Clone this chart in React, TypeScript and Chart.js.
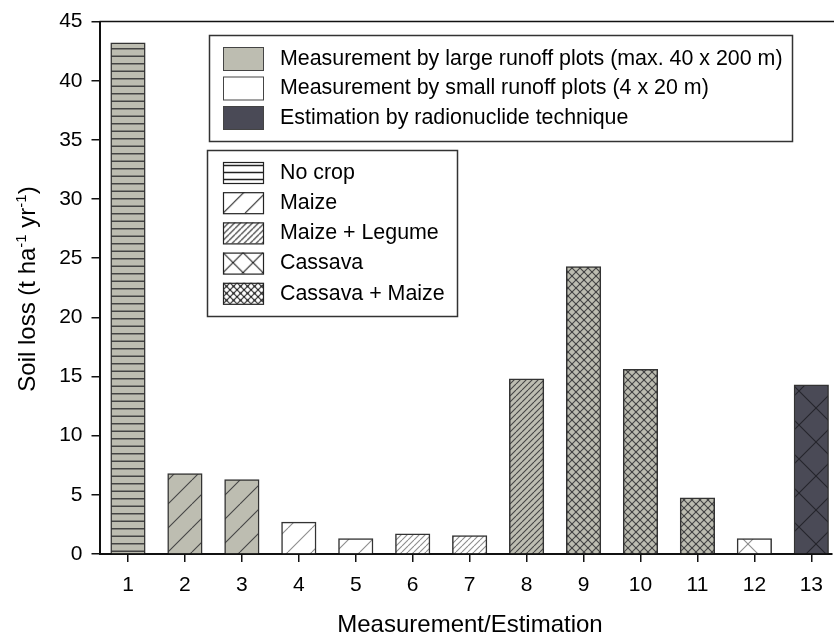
import React, { useEffect, useRef } from "react";
import { Chart, registerables } from "chart.js";

Chart.register(...registerables);

// ---- data ----
const categories = [1, 2, 3, 4, 5, 6, 7, 8, 9, 10, 11, 12, 13];
const soilLoss = [43.2, 6.8, 6.3, 2.7, 1.3, 1.7, 1.55, 14.8, 24.3, 15.6, 4.75, 1.3, 14.3];
const methods = ["large", "large", "large", "small", "small", "small", "small", "large", "large", "large", "large", "small", "radio"];
const crops = ["none", "maize", "maize", "maize", "maize", "maizeLegume", "maizeLegume", "maizeLegume", "cassavaMaize", "cassavaMaize", "cassavaMaize", "cassava", "cassava"];
const yTicks = [0, 5, 10, 15, 20, 25, 30, 35, 40, 45];
const methodKeys = ["large", "small", "radio"];
const methodLabels = [
  "Measurement by large runoff plots (max. 40 x 200 m)",
  "Measurement by small runoff plots (4 x 20 m)",
  "Estimation by radionuclide technique",
];
const cropKeys = ["none", "maize", "maizeLegume", "cassava", "cassavaMaize"];
const cropLabels = ["No crop", "Maize", "Maize + Legume", "Cassava", "Cassava + Maize"];
const xTitle = "Measurement/Estimation";

// ---- styles ----
const FONT = '"Liberation Sans", Arial, Helvetica, sans-serif';
const methodFill: Record<string, string> = { large: "#bdbdb1", small: "#ffffff", radio: "#4a4a56" };
const methodLine: Record<string, string> = { large: "#444444", small: "#8c8c8c", radio: "#25252c" };
// tile sizes; "none" tiles hold two horizontal lines
const barSizes: Record<string, number> = { none: 15, maize: 24, maizeLegume: 6, cassava: 34, cassavaMaize: 8 };
const legendSizes: Record<string, number> = { none: 14, maize: 22, maizeLegume: 6, cassava: 20, cassavaMaize: 7 };

function makePattern(fill: string, kind: string, line: string, P: number, ox = 0, oy = 0): CanvasPattern | string {
  const c = document.createElement("canvas");
  c.width = kind === "none" ? 4 : P;
  c.height = P;
  const ctx = c.getContext("2d")!;
  ctx.fillStyle = fill;
  ctx.fillRect(0, 0, c.width, c.height);
  ctx.strokeStyle = line;
  if (kind === "none") {
    ctx.lineWidth = 1.5;
    [P / 4, (3 * P) / 4].forEach((y) => {
      ctx.beginPath();
      ctx.moveTo(0, y);
      ctx.lineTo(c.width, y);
      ctx.stroke();
    });
  } else {
    ctx.lineWidth = 1.1;
    const cross = kind === "cassava" || kind === "cassavaMaize";
    for (let k = -1; k <= 1; k++) {
      ctx.beginPath();
      ctx.moveTo(k * P, P);
      ctx.lineTo(k * P + P, 0);
      ctx.stroke();
      if (cross) {
        ctx.beginPath();
        ctx.moveTo(k * P, 0);
        ctx.lineTo(k * P + P, P);
        ctx.stroke();
      }
    }
    if (kind === "cassavaMaize") {
      ctx.fillStyle = line;
      const pts = [[0, 0], [P, 0], [0, P], [P, P], [P / 2, P / 2]];
      pts.forEach(([x, y]) => {
        ctx.beginPath();
        ctx.arc(x, y, 1.1, 0, Math.PI * 2);
        ctx.fill();
      });
    }
  }
  const pat = ctx.createPattern(c, "repeat");
  if (!pat) return fill;
  if (ox || oy) pat.setTransform(new DOMMatrix().translate(ox, oy));
  return pat;
}

export default function App() {
  const ref = useRef<HTMLCanvasElement | null>(null);

  useEffect(() => {
    const canvas = ref.current;
    if (!canvas) return;

    const barFills = categories.map((_, i) =>
      makePattern(methodFill[methods[i]], crops[i], methodLine[methods[i]], barSizes[crops[i]])
    );
    const swatchLeft = 223;
    const cropTop = (i: number) => 162 + i * 30.2;
    const legendCropFills = cropKeys.map((k, i) =>
      makePattern("#ffffff", k, "#222222", legendSizes[k], swatchLeft, k === "maize" ? cropTop(i) + 21 : cropTop(i))
    );

    const overlay = {
      id: "overlay",
      afterDraw(chart: any) {
        const ctx = chart.ctx as CanvasRenderingContext2D;
        const area = chart.chartArea;
        ctx.save();
        // top frame line
        ctx.strokeStyle = "#111";
        ctx.lineWidth = 1.5;
        ctx.beginPath();
        ctx.moveTo(area.left, area.top);
        ctx.lineTo(chart.width, area.top);
        ctx.stroke();

        // legend 1: methods
        ctx.lineWidth = 1.5;
        ctx.strokeStyle = "#333";
        ctx.strokeRect(209.5, 35.5, 583, 106);
        ctx.font = `21.4px ${FONT}`;
        ctx.textBaseline = "middle";
        ctx.textAlign = "left";
        methodKeys.forEach((k, i) => {
          const top = 47 + i * 29.5;
          ctx.fillStyle = methodFill[k];
          ctx.fillRect(swatchLeft, top, 40, 23);
          ctx.lineWidth = 1;
          ctx.strokeStyle = "#444";
          ctx.strokeRect(swatchLeft + 0.5, top + 0.5, 40, 23);
          ctx.fillStyle = "#000";
          ctx.fillText(methodLabels[i], 280, top + 12);
        });

        // legend 2: crops
        ctx.lineWidth = 1.5;
        ctx.strokeStyle = "#333";
        ctx.strokeRect(207.5, 150.5, 250, 166);
        cropKeys.forEach((k, i) => {
          const top = cropTop(i);
          ctx.fillStyle = legendCropFills[i] as any;
          ctx.fillRect(swatchLeft, top, 40, 21);
          ctx.lineWidth = 1.2;
          ctx.strokeStyle = "#222";
          ctx.strokeRect(swatchLeft + 0.5, top + 0.5, 40, 21);
          ctx.fillStyle = "#000";
          ctx.fillText(cropLabels[i], 280, top + 11);
        });

        // x title
        ctx.font = `24px ${FONT}`;
        ctx.textAlign = "center";
        ctx.fillText(xTitle, 470, 625);

        // y title with superscripts
        const big = `24px ${FONT}`;
        const small = `15px ${FONT}`;
        const parts: [string, boolean][] = [
          ["Soil loss (t ha", false],
          ["-1", true],
          [" yr", false],
          ["-1", true],
          [")", false],
        ];
        let total = 0;
        parts.forEach(([t, s]) => {
          ctx.font = s ? small : big;
          total += ctx.measureText(t).width;
        });
        ctx.translate(27, 289);
        ctx.rotate(-Math.PI / 2);
        ctx.textAlign = "left";
        ctx.textBaseline = "alphabetic";
        let x = -total / 2;
        parts.forEach(([t, s]) => {
          ctx.font = s ? small : big;
          ctx.fillText(t, x, s ? -1 : 8);
          x += ctx.measureText(t).width;
        });
        ctx.restore();
      },
    };

    const chart = new Chart(canvas, {
      type: "bar",
      data: {
        datasets: [
          {
            data: categories.map((c, i) => ({ x: c, y: soilLoss[i] })),
            backgroundColor: barFills as any,
            borderColor: "#333",
            borderWidth: 1.5,
            barThickness: 34.5,
          },
        ],
      },
      options: {
        animation: false,
        responsive: false,
        devicePixelRatio: 1,
        layout: { padding: { top: 20, left: 0, right: 0, bottom: 0 } },
        plugins: { legend: { display: false }, tooltip: { enabled: false } },
        scales: {
          x: {
            type: "linear",
            min: 0.5,
            max: 13.35,
            offset: false,
            z: 1,
            afterBuildTicks: (s: any) => {
              s.ticks = categories.map((v) => ({ value: v }));
            },
            afterFit: (s: any) => {
              s.height = 86;
            },
            grid: { display: true, offset: false, drawOnChartArea: false, drawTicks: true, tickLength: 8, color: "#111", lineWidth: 1.5 },
            border: { display: true, color: "#111", width: 2 },
            ticks: { font: { size: 21, family: FONT }, color: "#000", padding: 11, maxRotation: 0, autoSkip: false },
          },
          y: {
            min: 0,
            max: 45,
            z: 1,
            afterBuildTicks: (s: any) => {
              s.ticks = yTicks.map((v) => ({ value: v }));
            },
            afterFit: (s: any) => {
              s.width = 99.5;
            },
            grid: { display: true, drawOnChartArea: false, drawTicks: true, tickLength: 8, color: "#111", lineWidth: 1.5 },
            border: { display: true, color: "#111", width: 2 },
            ticks: { font: { size: 21, family: FONT }, color: "#000", padding: 9 },
          },
        },
      },
      plugins: [overlay],
    } as any);

    return () => chart.destroy();
  }, []);

  return (
    <canvas
      ref={ref}
      width={834}
      height={640}
      style={{ position: "absolute", left: 0, top: 0, width: 834, height: 640, background: "#fff" }}
    />
  );
}
